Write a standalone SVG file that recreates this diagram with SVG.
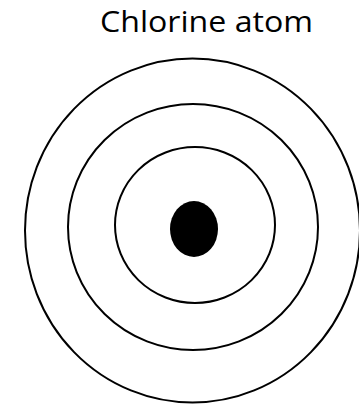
<svg xmlns="http://www.w3.org/2000/svg" width="359" height="404" viewBox="0 0 359 404">
<style>
.shell{fill:none;stroke:#000;stroke-width:2}
.title{font-family:"Open Sans","Noto Sans","Liberation Sans",sans-serif;font-size:30px;fill:#000}
</style>
<rect width="359" height="404" fill="#fff"/>
<text class="title" x="206.5" y="32" text-anchor="middle" textLength="213" lengthAdjust="spacingAndGlyphs">Chlorine atom</text>
<g id="shell3"><ellipse class="shell" cx="192.5" cy="230.5" rx="167.5" ry="172"/></g>
<g id="shell2"><ellipse class="shell" cx="193" cy="227" rx="125" ry="123"/></g>
<g id="shell1"><ellipse class="shell" cx="195" cy="225" rx="80" ry="78"/></g>
<g id="nucleus"><ellipse cx="194" cy="229" rx="24" ry="28" fill="#000"/></g>
<g id="connectors"/>
</svg>
